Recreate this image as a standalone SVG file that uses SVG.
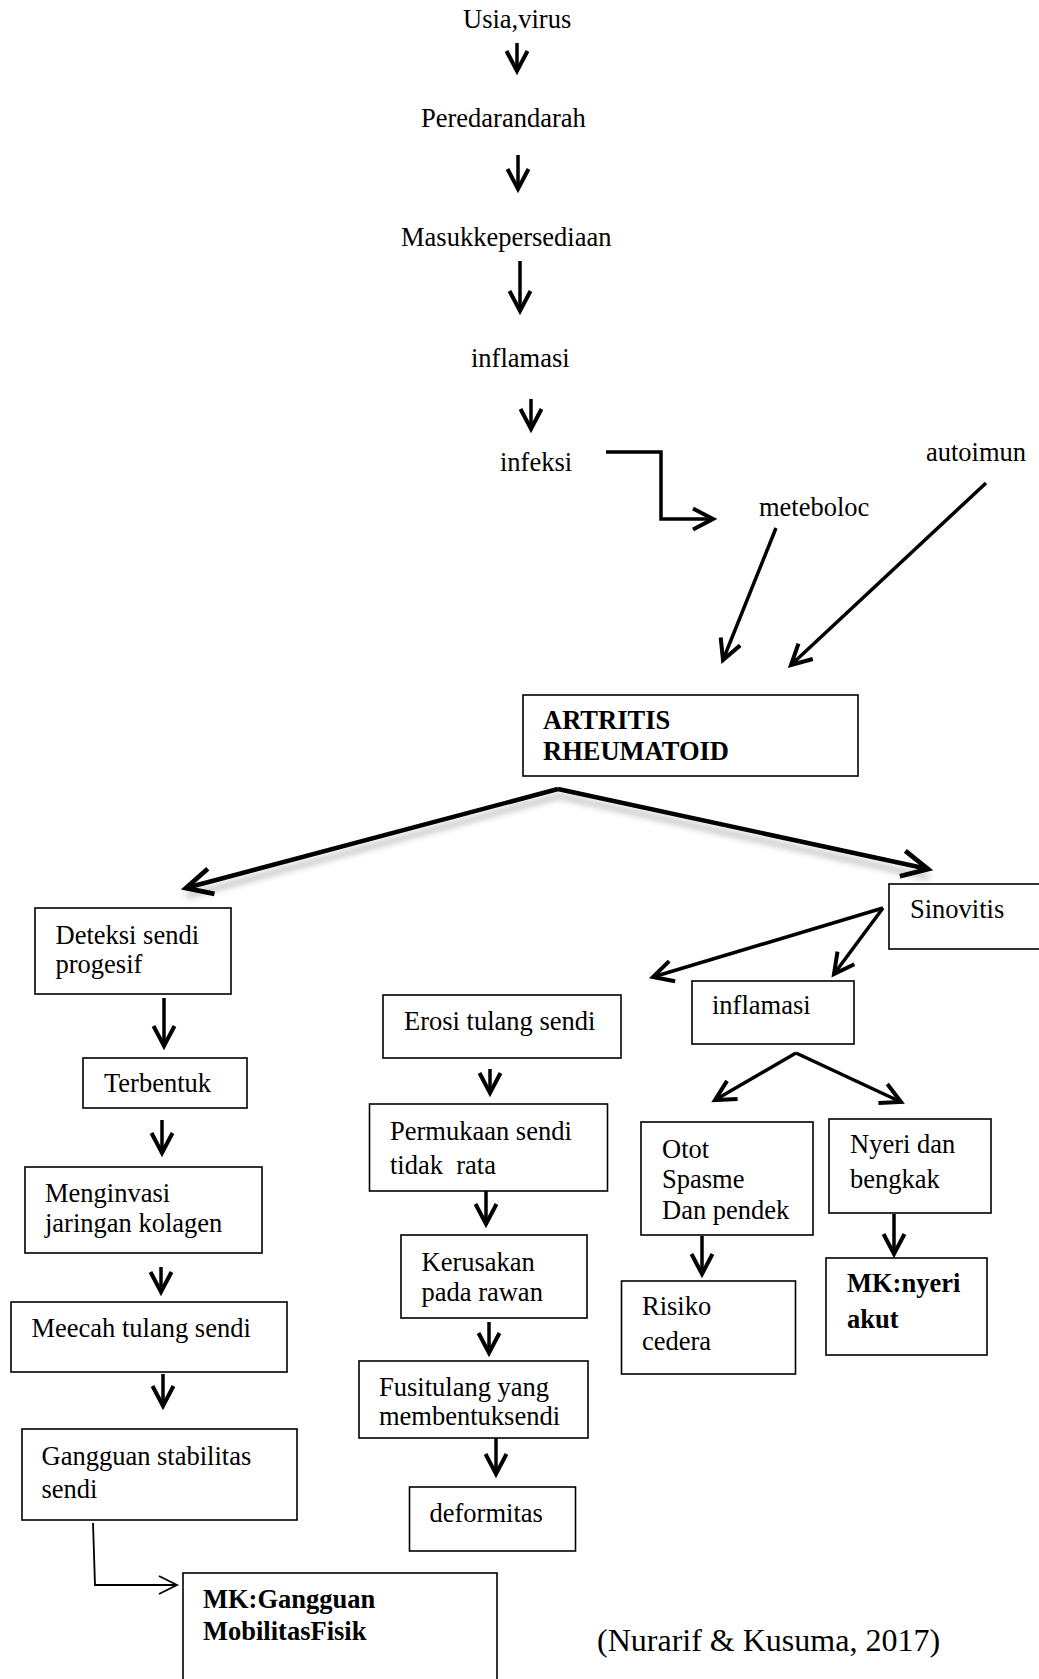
<svg xmlns="http://www.w3.org/2000/svg" width="1039" height="1679" viewBox="0 0 1039 1679">
<style>
.t{font-family:"Liberation Serif","Times New Roman",serif;font-size:26.5px;fill:#000}
.b{font-weight:bold}
.cite{font-size:32px}
.box{fill:#fff;stroke:#000;stroke-width:1.6}
.a{fill:none;stroke:#000;stroke-width:3.5;marker-end:url(#ah)}
.ab{fill:none;stroke:#000;stroke-width:4.5;marker-end:url(#ahb)}
.at{fill:none;stroke:#000;stroke-width:1.8;marker-end:url(#aht)}
.sh{fill:none;stroke:#888;stroke-width:5;opacity:0.55;filter:url(#blur)}
</style>
<defs>
<marker id="ah" markerUnits="userSpaceOnUse" orient="auto" refX="0" refY="0" markerWidth="40" markerHeight="40" overflow="visible">
<path d="M-20,-10.5 L0,0 L-20,10.5" fill="none" stroke="#000" stroke-width="4"/>
</marker>
<marker id="ahb" markerUnits="userSpaceOnUse" orient="auto" refX="0" refY="0" markerWidth="50" markerHeight="50" overflow="visible">
<path d="M-26,-13 L0,0 L-26,13" fill="none" stroke="#000" stroke-width="4.8"/>
</marker>
<marker id="aht" markerUnits="userSpaceOnUse" orient="auto" refX="0" refY="0" markerWidth="30" markerHeight="30" overflow="visible">
<path d="M-18,-9 L0,0 L-18,9" fill="none" stroke="#000" stroke-width="1.8"/>
</marker>
<filter id="blur" x="-10%" y="-50%" width="120%" height="200%">
<feGaussianBlur stdDeviation="3"/>
</filter>
</defs>

<g id="connectors">
<path class="a" d="M517,43 L517,71"/>
<path class="a" d="M518,155 L518,189"/>
<path class="a" d="M520,261 L520,311"/>
<path class="a" d="M531,399 L531,429"/>
<path class="a" d="M606,452 L661,452 L661,519 L713,519"/>
<path class="a" d="M776,528 L723,660"/>
<path class="a" d="M986,483 L791,665"/>
<path class="sh" d="M186,896 L559,796 L929,877"/>
<path class="ab" d="M558,789 L186,888"/>
<path class="ab" d="M558,789 L928,869"/>
<path class="a" d="M164,998 L164,1046"/>
<path class="a" d="M162,1120 L162,1153"/>
<path class="a" d="M161,1267 L161,1292"/>
<path class="a" d="M163,1374 L163,1406"/>
<path class="at" d="M93,1523 L95,1585 L177,1585"/>
<path class="a" d="M490,1069 L490,1093"/>
<path class="a" d="M486,1191 L486,1224"/>
<path class="a" d="M489,1322 L489,1353"/>
<path class="a" d="M496,1438 L496,1474"/>
<path class="a" d="M883,908 L653,977"/>
<path class="a" d="M883,908 L834,974"/>
<path class="a" d="M796,1053 L715,1100"/>
<path class="a" d="M796,1053 L901,1102"/>
<path class="a" d="M702,1236 L702,1274"/>
<path class="a" d="M894,1214 L894,1254"/>
</g>

<g id="usia"><text class="t" x="463" y="28">Usia,virus</text></g>
<g id="peredaran"><text class="t" x="421" y="127">Peredarandarah</text></g>
<g id="masuk"><text class="t" x="401" y="246">Masukkepersediaan</text></g>
<g id="inflamasi-top"><text class="t" x="471" y="367">inflamasi</text></g>
<g id="infeksi"><text class="t" x="500" y="471">infeksi</text></g>
<g id="meteboloc"><text class="t" x="759" y="516">meteboloc</text></g>
<g id="autoimun"><text class="t" x="926" y="461">autoimun</text></g>

<g id="artritis">
<rect class="box" x="523" y="695" width="335" height="81"/>
<text class="t b" x="543" y="729">ARTRITIS</text>
<text class="t b" x="543" y="760">RHEUMATOID</text>
</g>

<g id="deteksi">
<rect class="box" x="35" y="908" width="196" height="86"/>
<text class="t" x="55.5" y="944">Deteksi sendi</text>
<text class="t" x="55.5" y="973">progesif</text>
</g>
<g id="terbentuk">
<rect class="box" x="83" y="1058" width="164" height="50"/>
<text class="t" x="104" y="1092">Terbentuk</text>
</g>
<g id="menginvasi">
<rect class="box" x="25" y="1167" width="237" height="86"/>
<text class="t" x="45" y="1202">Menginvasi</text>
<text class="t" x="45" y="1232">jaringan kolagen</text>
</g>
<g id="meecah">
<rect class="box" x="11" y="1302" width="276" height="70"/>
<text class="t" x="31.5" y="1337">Meecah tulang sendi</text>
</g>
<g id="gangguan-stabilitas">
<rect class="box" x="22" y="1429" width="275" height="91"/>
<text class="t" x="41.5" y="1465">Gangguan stabilitas</text>
<text class="t" x="41.5" y="1498">sendi</text>
</g>
<g id="mk-mobilitas">
<rect class="box" x="183" y="1573" width="314" height="130"/>
<text class="t b" x="203" y="1608">MK:Gangguan</text>
<text class="t b" x="203" y="1640">MobilitasFisik</text>
</g>

<g id="erosi">
<rect class="box" x="383" y="995" width="238" height="63"/>
<text class="t" x="404" y="1030">Erosi tulang sendi</text>
</g>
<g id="permukaan">
<rect class="box" x="369.5" y="1104" width="238" height="87"/>
<text class="t" x="390" y="1140">Permukaan sendi</text>
<text class="t" x="390" y="1174" xml:space="preserve">tidak  rata</text>
</g>
<g id="kerusakan">
<rect class="box" x="401" y="1235" width="186" height="83"/>
<text class="t" x="421.5" y="1271">Kerusakan</text>
<text class="t" x="421.5" y="1301">pada rawan</text>
</g>
<g id="fusi">
<rect class="box" x="359" y="1361" width="229" height="77"/>
<text class="t" x="379" y="1396">Fusitulang yang</text>
<text class="t" x="379" y="1425">membentuksendi</text>
</g>
<g id="deformitas">
<rect class="box" x="409.5" y="1487" width="166" height="64"/>
<text class="t" x="429.5" y="1522">deformitas</text>
</g>

<g id="sinovitis">
<rect class="box" x="889" y="884" width="170" height="65"/>
<text class="t" x="910" y="918">Sinovitis</text>
</g>
<g id="inflamasi-box">
<rect class="box" x="692" y="981" width="162" height="63"/>
<text class="t" x="712" y="1014">inflamasi</text>
</g>
<g id="otot">
<rect class="box" x="641" y="1122" width="172" height="113"/>
<text class="t" x="662" y="1158">Otot</text>
<text class="t" x="662" y="1188">Spasme</text>
<text class="t" x="662" y="1219">Dan pendek</text>
</g>
<g id="risiko">
<rect class="box" x="621.5" y="1281" width="174" height="93"/>
<text class="t" x="642" y="1315">Risiko</text>
<text class="t" x="642" y="1350">cedera</text>
</g>
<g id="nyeri">
<rect class="box" x="829" y="1119" width="162" height="94"/>
<text class="t" x="850" y="1153">Nyeri dan</text>
<text class="t" x="850" y="1188">bengkak</text>
</g>
<g id="mk-nyeri">
<rect class="box" x="826" y="1258" width="161" height="97"/>
<text class="t b" x="847" y="1292">MK:nyeri</text>
<text class="t b" x="847" y="1328">akut</text>
</g>

<g id="citation"><text class="t cite" x="597" y="1651">(Nurarif &amp; Kusuma, 2017)</text></g>
</svg>
